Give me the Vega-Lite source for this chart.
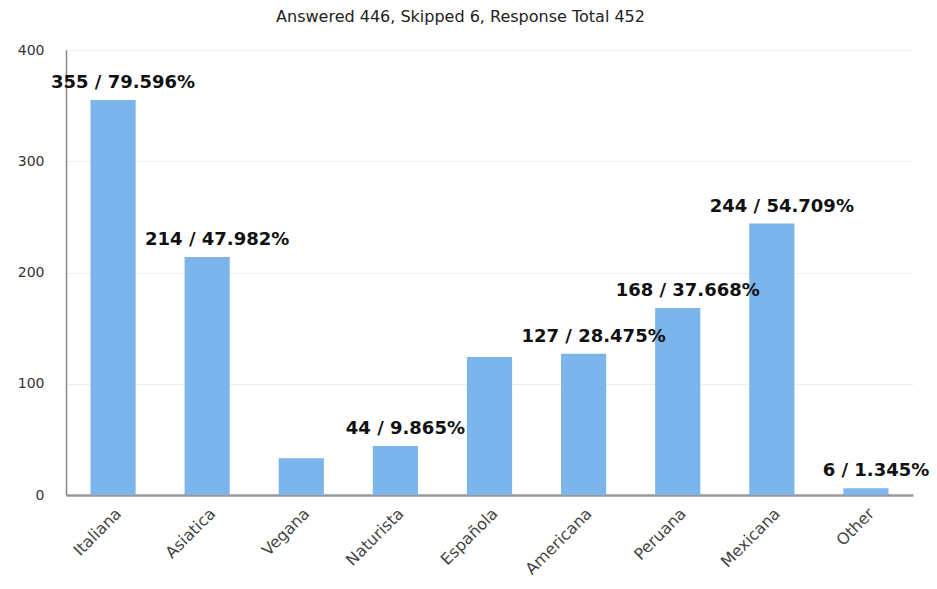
{
  "$schema": "https://vega.github.io/schema/vega-lite/v6.json",
  "autosize": {"type": "none"},
  "padding": {"left": 66, "top": 50, "right": 24, "bottom": 94},
  "width": 847,
  "height": 445,
  "background": "white",
  "title": {
    "text": "Answered 446, Skipped 6, Response Total 452",
    "font": "DejaVu Sans",
    "fontSize": 16,
    "fontWeight": "normal",
    "color": "#222",
    "offset": 18,
    "dx": -29
  },
  "data": {
    "values": [
      {"cuisine": "Italiana", "count": 355, "label": "355 / 79.596%"},
      {"cuisine": "Asiatica", "count": 214, "label": "214 / 47.982%"},
      {"cuisine": "Vegana", "count": 33, "label": ""},
      {"cuisine": "Naturista", "count": 44, "label": "44 / 9.865%"},
      {"cuisine": "Española", "count": 124, "label": ""},
      {"cuisine": "Americana", "count": 127, "label": "127 / 28.475%"},
      {"cuisine": "Peruana", "count": 168, "label": "168 / 37.668%"},
      {"cuisine": "Mexicana", "count": 244, "label": "244 / 54.709%"},
      {"cuisine": "Other", "count": 6, "label": "6 / 1.345%"}
    ]
  },
  "config": {"view": {"stroke": null}},
  "encoding": {
    "x": {
      "field": "cuisine",
      "type": "nominal",
      "sort": null,
      "scale": {"paddingInner": 0.52, "paddingOuter": 0.26},
      "axis": {
        "title": null,
        "labelAngle": -45,
        "labelFont": "DejaVu Sans",
        "labelFontSize": 16,
        "labelColor": "#444",
        "labelPadding": 10,
        "ticks": false,
        "domainColor": "#999",
        "domainWidth": 2.5,
        "grid": false
      }
    },
    "y": {
      "field": "count",
      "type": "quantitative",
      "scale": {"domain": [0, 400], "nice": false},
      "axis": {
        "title": null,
        "values": [0, 100, 200, 300, 400],
        "labelFont": "DejaVu Sans",
        "labelFontSize": 14,
        "labelColor": "#333",
        "labelPadding": 22,
        "ticks": false,
        "domainColor": "#888",
        "domainWidth": 1.5,
        "gridColor": "#eeeeee",
        "gridWidth": 1
      }
    }
  },
  "layer": [
    {"mark": {"type": "bar", "color": "#7cb5ec"}},
    {
      "mark": {
        "type": "text",
        "font": "DejaVu Sans",
        "fontWeight": "bold",
        "fontSize": 18,
        "color": "#111",
        "baseline": "bottom",
        "dy": -8,
        "dx": 10
      },
      "encoding": {"text": {"field": "label"}}
    }
  ]
}
